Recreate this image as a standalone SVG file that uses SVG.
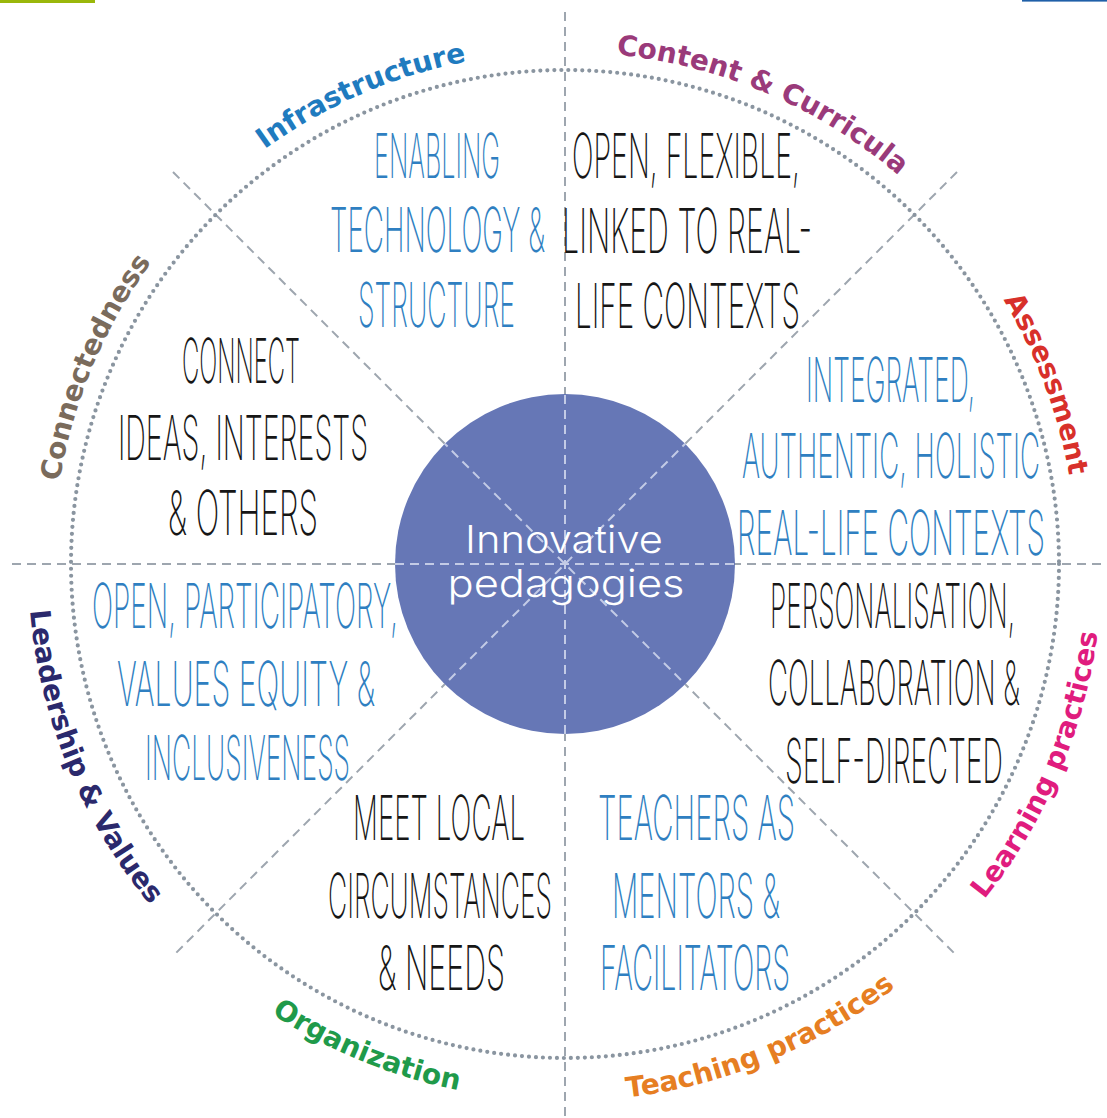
<svg xmlns="http://www.w3.org/2000/svg" width="1107" height="1118" viewBox="0 0 1107 1118">
  <style>
    .guide { fill: none; stroke: #9ea6af; stroke-width: 2; stroke-dasharray: 9 6; }
    .guide-in { fill: none; stroke: #c3cbe6; stroke-width: 2; stroke-dasharray: 9 6; }
    .ring { fill: none; stroke: #8a95a0; stroke-width: 4.2; stroke-linecap: round; stroke-dasharray: 0 7; }
    .hand { font-family: Inter, "Open Sans", "Liberation Sans", sans-serif; font-weight: 200; font-size: 62px; text-anchor: middle; }
    .blue { fill: #2f7fc1; }
    .ink { fill: #161616; }
    .arc { font-family: "DejaVu Sans", Verdana, sans-serif; font-weight: bold; font-size: 28px; }
    .core { font-family: Inter, "Liberation Sans", Arial, sans-serif; font-weight: 300; font-size: 38px; fill: #ffffff; text-anchor: middle; }
  </style>
  <defs>
    <!-- clockwise arcs: letter tops face outward -->
    <path id="p-infra" d="M72.8,422.9 A512,512 0 0 1 789.5,103.8"/>
    <path id="p-content" d="M330.2,109.0 A512,512 0 0 1 1053.9,411.7"/>
    <path id="p-connect" d="M115.1,808.3 A512,512 0 0 1 402.5,78.5"/>
    <path id="p-assess" d="M735.9,81.4 A512,512 0 0 1 1010.6,816.1"/>
    <!-- counter-clockwise arcs: letter tops face inward -->
    <path id="p-lead" d="M90.0,313.5 A537,537 0 0 0 400.8,1075.3"/>
    <path id="p-org" d="M53.4,727.2 A537,537 0 0 0 814.6,1039.5"/>
    <path id="p-teach" d="M312.9,1038.1 A537,537 0 0 0 1075.7,729.9"/>
    <path id="p-learn" d="M722.0,1077.5 A537,537 0 0 0 1043.5,320.2"/>
    <clipPath id="core-clip"><circle cx="565" cy="564" r="170"/></clipPath>
  </defs>

  <rect width="1107" height="1118" fill="#ffffff"/>
  <!-- page edge fragments -->
  <rect x="0" y="0" width="95" height="3" fill="#9ab70a"/>
  <rect x="1022" y="0" width="85" height="1.6" fill="#1f5fa8"/>

  <!-- sector dividers -->
  <g id="connectors">
    <line class="guide" x1="565" y1="12" x2="565" y2="1118"/>
    <line class="guide" x1="12" y1="564" x2="1107" y2="564"/>
    <line class="guide" x1="173" y1="172" x2="957" y2="956"/>
    <line class="guide" x1="957" y1="172" x2="173" y2="956"/>
  </g>

  <!-- dotted ring -->
  <circle class="ring" cx="565" cy="564" r="494"/>

  <!-- centre -->
  <g id="core">
    <circle cx="565" cy="564" r="170" fill="#6677b6"/>
    <g clip-path="url(#core-clip)">
      <line class="guide-in" x1="565" y1="380" x2="565" y2="750"/>
      <line class="guide-in" x1="380" y1="564" x2="750" y2="564"/>
      <line class="guide-in" x1="420" y1="419" x2="710" y2="709"/>
      <line class="guide-in" x1="710" y1="419" x2="420" y2="709"/>
    </g>
    <text class="core" x="564" y="553" textLength="198" lengthAdjust="spacingAndGlyphs">Innovative</text>
    <text class="core" x="566" y="597" textLength="237" lengthAdjust="spacingAndGlyphs">pedagogies</text>
  </g>

  <!-- sector labels on the ring -->
  <g id="label-infrastructure"><text class="arc" fill="#1f7bbf"><textPath href="#p-infra" startOffset="50.5%" text-anchor="middle">Infrastructure</textPath></text></g>
  <g id="label-content"><text class="arc" fill="#9a3a7a"><textPath href="#p-content" startOffset="50.5%" text-anchor="middle">Content &amp; Curricula</textPath></text></g>
  <g id="label-connectedness"><text class="arc" fill="#7a6b5c"><textPath href="#p-connect" startOffset="51.2%" text-anchor="middle">Connectedness</textPath></text></g>
  <g id="label-assessment"><text class="arc" fill="#d8302a"><textPath href="#p-assess" startOffset="50%" text-anchor="middle">Assessment</textPath></text></g>
  <g id="label-leadership"><text class="arc" fill="#2b296c"><textPath href="#p-lead" startOffset="50%" text-anchor="middle">Leadership &amp; Values</textPath></text></g>
  <g id="label-organization"><text class="arc" fill="#1f9a4a"><textPath href="#p-org" startOffset="50%" text-anchor="middle">Organization</textPath></text></g>
  <g id="label-teaching"><text class="arc" fill="#e67e22"><textPath href="#p-teach" startOffset="50.3%" text-anchor="middle">Teaching practices</textPath></text></g>
  <g id="label-learning"><text class="arc" fill="#e01c7e"><textPath href="#p-learn" startOffset="50%" text-anchor="middle">Learning practices</textPath></text></g>

  <!-- sector contents -->
  <g id="node-infrastructure" class="hand blue">
    <text x="437" y="178" textLength="126" lengthAdjust="spacingAndGlyphs">ENABLING</text>
    <text x="437.5" y="252" textLength="215" lengthAdjust="spacingAndGlyphs">TECHNOLOGY &amp;</text>
    <text x="436.5" y="327" textLength="157" lengthAdjust="spacingAndGlyphs">STRUCTURE</text>
  </g>
  <g id="node-content" class="hand ink">
    <text x="686" y="178" textLength="228" lengthAdjust="spacingAndGlyphs">OPEN, FLEXIBLE,</text>
    <text x="687" y="253" textLength="250" lengthAdjust="spacingAndGlyphs">LINKED TO REAL-</text>
    <text x="687.5" y="328" textLength="225" lengthAdjust="spacingAndGlyphs">LIFE CONTEXTS</text>
  </g>
  <g id="node-connectedness" class="hand ink">
    <text x="241" y="383" textLength="118" lengthAdjust="spacingAndGlyphs">CONNECT</text>
    <text x="243" y="460" textLength="250" lengthAdjust="spacingAndGlyphs">IDEAS, INTERESTS</text>
    <text x="243" y="535" textLength="150" lengthAdjust="spacingAndGlyphs">&amp; OTHERS</text>
  </g>
  <g id="node-assessment" class="hand blue">
    <text x="890.5" y="402" textLength="169" lengthAdjust="spacingAndGlyphs">INTEGRATED,</text>
    <text x="891" y="478" textLength="298" lengthAdjust="spacingAndGlyphs">AUTHENTIC, HOLISTIC</text>
    <text x="891" y="555" textLength="308" lengthAdjust="spacingAndGlyphs">REAL-LIFE CONTEXTS</text>
  </g>
  <g id="node-leadership" class="hand blue">
    <text x="245" y="628" textLength="306" lengthAdjust="spacingAndGlyphs">OPEN, PARTICIPATORY,</text>
    <text x="246" y="706" textLength="258" lengthAdjust="spacingAndGlyphs">VALUES EQUITY &amp;</text>
    <text x="247.5" y="780" textLength="205" lengthAdjust="spacingAndGlyphs">INCLUSIVENESS</text>
  </g>
  <g id="node-learning" class="hand ink">
    <text x="892.5" y="628" textLength="245" lengthAdjust="spacingAndGlyphs">PERSONALISATION,</text>
    <text x="894" y="705" textLength="252" lengthAdjust="spacingAndGlyphs">COLLABORATION &amp;</text>
    <text x="894" y="783" textLength="218" lengthAdjust="spacingAndGlyphs">SELF-DIRECTED</text>
  </g>
  <g id="node-organization" class="hand ink">
    <text x="439" y="840" textLength="172" lengthAdjust="spacingAndGlyphs">MEET LOCAL</text>
    <text x="440" y="918" textLength="224" lengthAdjust="spacingAndGlyphs">CIRCUMSTANCES</text>
    <text x="441.5" y="990" textLength="127" lengthAdjust="spacingAndGlyphs">&amp; NEEDS</text>
  </g>
  <g id="node-teaching" class="hand blue">
    <text x="696.5" y="840" textLength="197" lengthAdjust="spacingAndGlyphs">TEACHERS AS</text>
    <text x="696" y="918" textLength="168" lengthAdjust="spacingAndGlyphs">MENTORS &amp;</text>
    <text x="695" y="990" textLength="190" lengthAdjust="spacingAndGlyphs">FACILITATORS</text>
  </g>
</svg>
